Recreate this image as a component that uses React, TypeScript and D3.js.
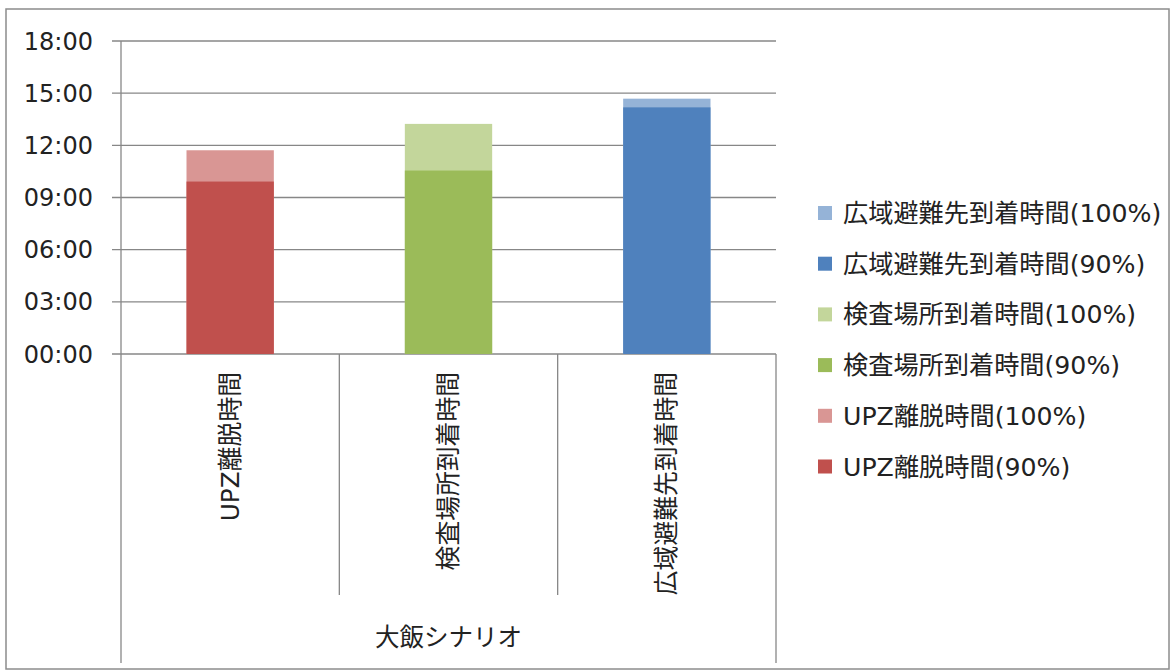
import React from "react";
import * as d3 from "d3";

// Data (minutes from 00:00)
const categories = ["UPZ離脱時間", "検査場所到着時間", "広域避難先到着時間"];
const values90 = [595, 633, 851];
const values100 = [703, 794, 881];
const colors90 = ["#C0504D", "#9BBB59", "#4F81BD"];
const colors100 = ["#D99694", "#C3D69B", "#95B3D7"];
const groupLabel = "大飯シナリオ";
const yTicks = [0, 180, 360, 540, 720, 900, 1080];
const legendItems = [
  { label: "広域避難先到着時間(100%)", color: "#95B3D7" },
  { label: "広域避難先到着時間(90%)", color: "#4F81BD" },
  { label: "検査場所到着時間(100%)", color: "#C3D69B" },
  { label: "検査場所到着時間(90%)", color: "#9BBB59" },
  { label: "UPZ離脱時間(100%)", color: "#D99694" },
  { label: "UPZ離脱時間(90%)", color: "#C0504D" },
];

const W = 1173;
const H = 671;
const FONT = "'DejaVu Sans', 'Noto Sans CJK JP', sans-serif";
const AX = "#878787";

export default function App() {
  const left = 121;
  const right = 776;
  const y = d3.scaleLinear().domain([0, 1080]).range([354, 41]);
  const x = d3
    .scaleBand<string>()
    .domain(categories)
    .range([left, right])
    .paddingInner(0.6)
    .paddingOuter(0.3);
  const step = x.step();
  const fmt = (m: number) => d3.format("02d")(Math.floor(m / 60)) + ":" + d3.format("02d")(m % 60);
  const y0 = y(0);
  const divBottom = 595;
  const outerBottom = 663;

  return (
    <svg
      width={W}
      height={H}
      style={{ position: "absolute", left: 0, top: 0, background: "#fff" }}
      fontFamily={FONT}
    >
      <rect x={6} y={9} width={1163} height={660} fill="#fff" stroke="#8c8c8c" strokeWidth={1.5} />
      {/* gridlines and ticks */}
      {yTicks.map((t) => (
        <g key={t}>
          <line x1={112} x2={right} y1={y(t)} y2={y(t)} stroke={AX} strokeWidth={1.3} />
          <text x={93} y={y(t)} dy="0.36em" textAnchor="end" fontSize={24} fill="#222">
            {fmt(t)}
          </text>
        </g>
      ))}
      {/* y axis line */}
      <line x1={left} x2={left} y1={y(1080)} y2={outerBottom} stroke={AX} strokeWidth={1.3} />
      <line x1={right} x2={right} y1={y0} y2={outerBottom} stroke={AX} strokeWidth={1.3} />
      {categories.slice(1).map((c) => {
        const xd = left + step * categories.indexOf(c);
        return <line key={c} x1={xd} x2={xd} y1={y0} y2={divBottom} stroke={AX} strokeWidth={1.3} />;
      })}
      {/* bars */}
      {categories.map((c, i) => (
        <g key={c}>
          <rect x={x(c)} y={y(values100[i])} width={x.bandwidth()} height={y0 - y(values100[i])} fill={colors100[i]} />
          <rect x={x(c)} y={y(values90[i])} width={x.bandwidth()} height={y0 - y(values90[i])} fill={colors90[i]} />
        </g>
      ))}
      {/* category labels */}
      {categories.map((c) => {
        const cx = (x(c) as number) + x.bandwidth() / 2;
        return (
          <text
            key={c}
            transform={`translate(${cx},372) rotate(-90)`}
            textAnchor="end"
            dominantBaseline="central"
            fontSize={24.8}
            fill="#222"
          >
            {c}
          </text>
        );
      })}
      <text x={(left + right) / 2} y={637} dy="0.36em" textAnchor="middle" fontSize={24.5} fill="#222">
        {groupLabel}
      </text>
      {/* legend */}
      {legendItems.map((it, i) => {
        const cy = 213 + i * 50.7;
        return (
          <g key={it.label}>
            <rect x={818} y={cy - 7} width={14} height={14} fill={it.color} />
            <text x={843} y={cy} dy="0.36em" fontSize={25.2} fill="#222">
              {it.label}
            </text>
          </g>
        );
      })}
    </svg>
  );
}
